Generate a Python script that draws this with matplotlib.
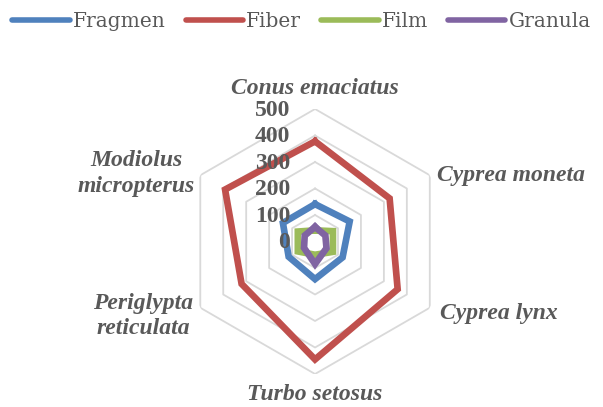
import numpy as np
import matplotlib
matplotlib.use("Agg")
import matplotlib.pyplot as plt
import matplotlib.patheffects as pe

categories = ["Conus emaciatus", "Cyprea moneta", "Cyprea lynx", "Turbo setosus",
              "Periglypta\nreticulata", "Modiolus\nmicropterus"]
series_names = ["Fragmen", "Fiber", "Film", "Granula"]
fragmen = [141, 151, 120, 142, 115, 140]
fiber = [378, 325, 360, 445, 320, 392]
film = [42, 78, 78, 50, 75, 75]
granula = [55, 45, 50, 85, 48, 45]
r_ticks = [0, 100, 200, 300, 400, 500]

colors = ["#4F81BD", "#C0504D", "#9BBB59", "#8064A2"]
grey = "#595959"

fig = plt.figure(figsize=(6.03, 4.07), dpi=100)
ax = fig.add_axes([0.3027, 0.0811, 0.4395, 0.6511], projection="polar")
ax.set_theta_offset(np.pi / 2)
ax.set_theta_direction(-1)
ax.set_ylim(0, r_ticks[-1])
ax.grid(False)
ax.spines["polar"].set_visible(False)
ax.set_xticks([])
ax.set_yticks([])
ax.patch.set_alpha(0)

n = len(categories)
theta = np.linspace(0, 2 * np.pi, n, endpoint=False)
theta_closed = np.append(theta, theta[0])

# hexagonal gridlines
for r in r_ticks[1:]:
    ax.plot(theta_closed, [r] * (n + 1), color="#D9D9D9", lw=1.3, zorder=1)

shadow = [pe.SimpleLineShadow(offset=(1.5, -1.5), alpha=0.25, shadow_color="black"), pe.Normal()]
for name, vals, c in zip(series_names, [fragmen, fiber, film, granula], colors):
    v = np.append(vals, vals[0])
    ax.plot(theta_closed, v, color=c, lw=4.8, solid_joinstyle="miter",
            label=name, zorder=3, path_effects=shadow)

# value labels
for r in r_ticks:
    ax.annotate(str(r), xy=(0, r), xytext=(-18, -1), textcoords="offset points",
                ha="right", va="center", fontsize=17, fontweight="bold",
                family="Liberation Serif", color=grey, zorder=5)

# category labels
offsets = [(0, 15, "center"), (5, 0, "left"), (7, -4, "left"),
           (0, -15, "center"), (-5, -6, "right"), (-4, 1, "right")]
for t, lab, (dx, dy, ha) in zip(theta, categories, offsets):
    ax.annotate(lab, xy=(t, r_ticks[-1]), xytext=(dx, dy), textcoords="offset points",
                ha=ha, va="center", multialignment="center", linespacing=1.3,
                fontsize=17, fontweight="bold", fontstyle="italic",
                family="Liberation Serif", color=grey, annotation_clip=False)

handles, labels = ax.get_legend_handles_labels()
for h in handles:
    h.set_path_effects([])
leg = fig.legend(handles, labels, loc="center", bbox_to_anchor=(0.5, 0.946), ncol=4,
                 frameon=False, handlelength=2.85, handletextpad=0.15, columnspacing=1.0,
                 prop={"family": "DejaVu Serif", "size": 14.5})
for line in leg.get_lines():
    line.set_linewidth(4)
    line.set_solid_capstyle("round")
for txt in leg.get_texts():
    txt.set_color(grey)

fig.savefig("out.png", dpi=100)
